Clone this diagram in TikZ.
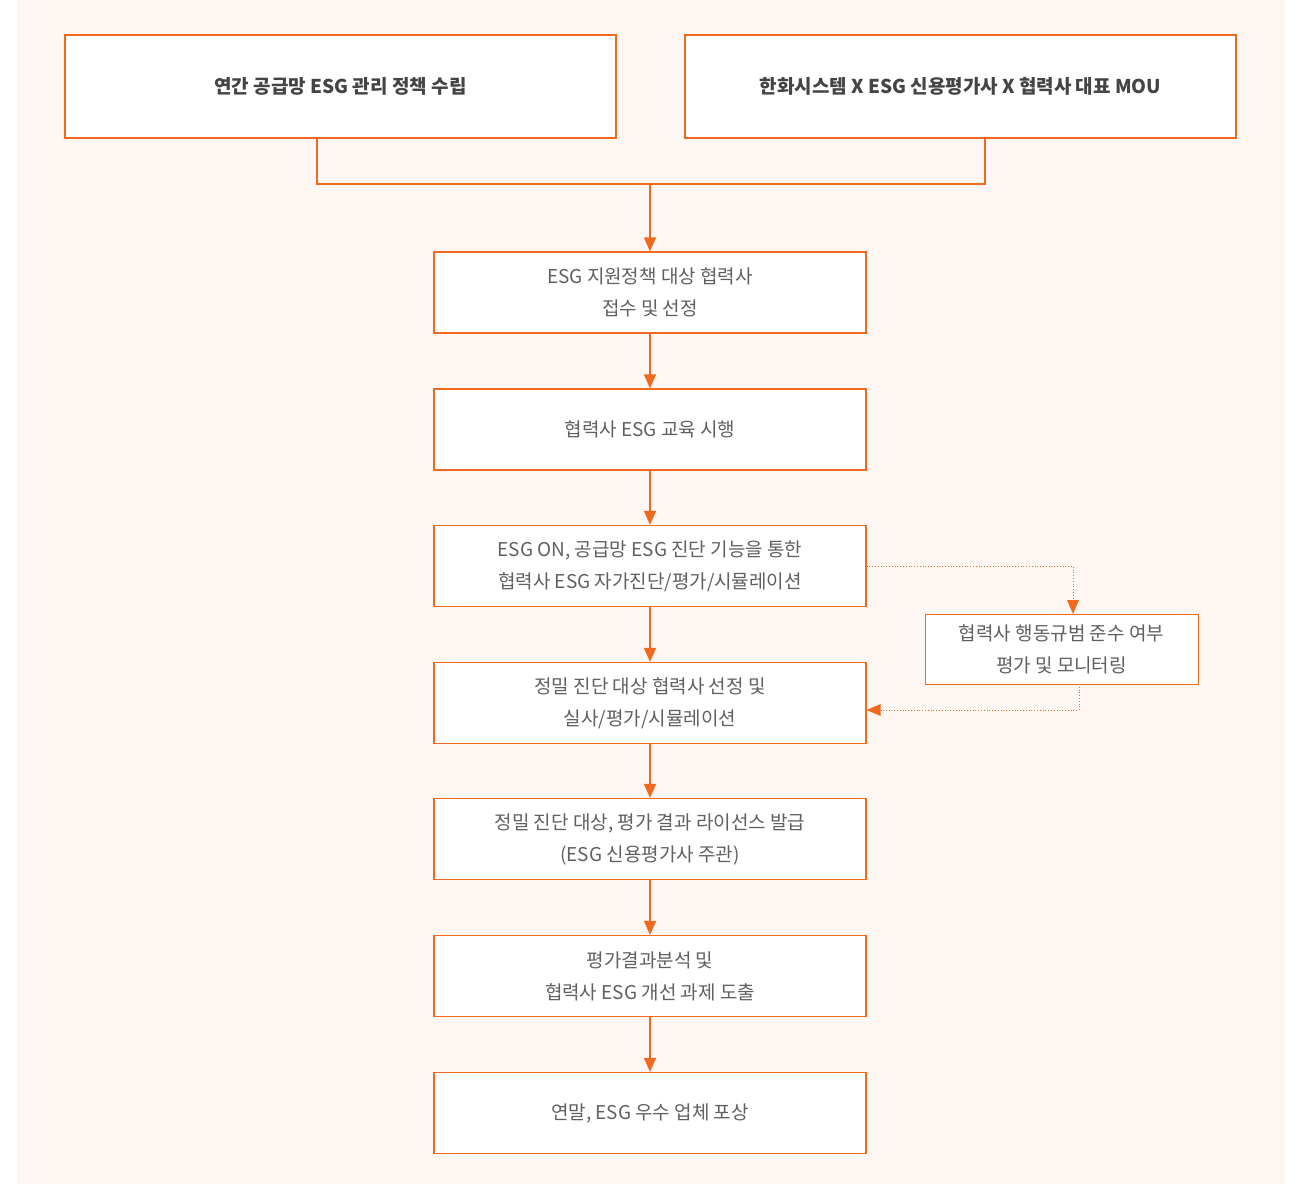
\documentclass[tikz,border=0pt]{standalone}
\usepackage{fontspec}
\setmainfont{Noto Sans CJK KR}
\usetikzlibrary{arrows.meta}
\definecolor{bgpeach}{HTML}{FEF6F3}
\definecolor{orng}{HTML}{EF6A1E}
\definecolor{txtgray}{HTML}{606060}
\definecolor{txtdark}{HTML}{444444}
\tikzset{
  stepbox/.style={draw=orng, line width=1.2pt, fill=white, minimum width=432pt, minimum height=81pt, inner sep=0pt, align=center, text=txtgray, font=\fontsize{19}{32}\selectfont},
  topbox/.style={draw=orng, line width=1.2pt, fill=white, minimum width=551pt, minimum height=103pt, inner sep=0pt, align=center, text=txtdark, font=\fontsize{19}{32}\selectfont\bfseries},
  sidebox/.style={draw=orng, line width=1.0pt, fill=white, minimum width=273pt, minimum height=70pt, inner sep=0pt, align=center, text=txtgray, font=\fontsize{19}{32}\selectfont},
  flow/.style={draw=orng, line width=1.2pt},
  flowarrow/.style={flow, -{Triangle[width=12pt,length=14pt]}},
  dotline/.style={draw=orng, line width=0.8pt, dotted},
  dotarrow/.style={dotline, -{Triangle[width=12pt,length=14pt,fill=orng,line width=0pt]}},
}
\begin{document}
\begin{tikzpicture}[x=1pt,y=-1pt]
\useasboundingbox (0,0) rectangle (1305,1184);
\fill[bgpeach] (17,0) rectangle (1285,1184);

\node[topbox] (tl) at (340.5,86.5) {연간 공급망 ESG 관리 정책 수립};
\node[topbox] (tr) at (960.5,86.5) {한화시스템 X ESG 신용평가사 X 협력사 대표 MOU};

\node[stepbox] (b1) at (650,292.5) {ESG 지원정책 대상 협력사\\접수 및 선정};
\node[stepbox] (b2) at (650,429.5) {협력사 ESG 교육 시행};
\node[stepbox] (b3) at (650,566) {ESG ON, 공급망 ESG 진단 기능을 통한\\협력사 ESG 자가진단/평가/시뮬레이션};
\node[stepbox] (b4) at (650,703) {정밀 진단 대상 협력사 선정 및\\실사/평가/시뮬레이션};
\node[stepbox] (b5) at (650,839) {정밀 진단 대상, 평가 결과 라이선스 발급\\(ESG 신용평가사 주관)};
\node[stepbox] (b6) at (650,976) {평가결과분석 및\\협력사 ESG 개선 과제 도출};
\node[stepbox] (b7) at (650,1113) {연말, ESG 우수 업체 포상};

\node[sidebox] (sd) at (1061.5,649) {협력사 행동규범 준수 여부\\평가 및 모니터링};

\coordinate (tlb) at (317,138);
\coordinate (trb) at (985,138);
\coordinate (join) at (650,184);
\draw[flow] (tlb) -- (317,184) -- (985,184) -- (trb);
\draw[flowarrow] (join) -- (b1.north);
\draw[flowarrow] (b1) -- (b2);
\draw[flowarrow] (b2) -- (b3);
\draw[flowarrow] (b3) -- (b4);
\draw[flowarrow] (b4) -- (b5);
\draw[flowarrow] (b5) -- (b6);
\draw[flowarrow] (b6) -- (b7);

\draw[dotarrow] (b3.east) -- (1073,566) -- (1073,614);
\draw[dotarrow] (1079,684) -- (1079,710) -- (b4.east |- 0,710);
\end{tikzpicture}
\end{document}
